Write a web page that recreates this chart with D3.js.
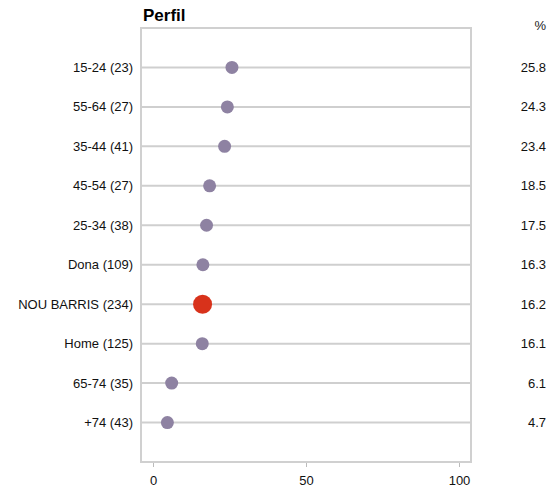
<!DOCTYPE html>
<html><head><meta charset="utf-8">
<script src="https://cdn.jsdelivr.net/npm/d3@7"></script>
<style>body{margin:0;background:#fff;} text{font-family:"Liberation Sans",Arial,sans-serif;}</style>
</head><body><svg id="c" width="550" height="489"></svg>
<script>
const categories = ["15-24 (23)","55-64 (27)","35-44 (41)","45-54 (27)","25-34 (38)","Dona (109)","NOU BARRIS (234)","Home (125)","65-74 (35)","+74 (43)"];
const values = [25.8,24.3,23.4,18.5,17.5,16.3,16.2,16.1,6.1,4.7];
const highlight = ["NOU BARRIS (234)"];
const xTicks = [0,50,100];

const svg = d3.select("#c");
const frame = {l:141, t:28, r:471, b:462};
const x = d3.scaleLinear().domain([0,100]).range([153,459]);
const y = d3.scalePoint().domain(categories).range([frame.t, frame.b]).padding(1);

svg.append("rect").attr("x",frame.l).attr("y",frame.t).attr("width",frame.r-frame.l).attr("height",frame.b-frame.t)
  .attr("fill","none").attr("stroke","#d0d0d0").attr("stroke-width",2);

svg.append("text").attr("x",143).attr("y",21).attr("font-size",17).attr("font-weight","bold").text("Perfil");
svg.append("text").attr("x",546).attr("y",25).attr("dy","0.35em").attr("text-anchor","end").attr("font-size",13).attr("fill","#222").text("%");

const rows = svg.append("g").selectAll("g").data(categories).join("g");
rows.append("line").attr("x1",frame.l).attr("x2",frame.r).attr("y1",d=>y(d)).attr("y2",d=>y(d))
  .attr("stroke","#cfcfcf").attr("stroke-width",2);
rows.append("text").attr("x",133).attr("y",d=>y(d)).attr("dy","0.35em").attr("text-anchor","end")
  .attr("font-size",13).attr("fill","#111").text(d=>d);
rows.append("text").attr("x",546).attr("y",d=>y(d)).attr("dy","0.35em").attr("text-anchor","end")
  .attr("font-size",13).attr("fill","#111").text((d,i)=>values[i].toFixed(1));
rows.append("circle").attr("cx",(d,i)=>x(values[i])).attr("cy",d=>y(d))
  .attr("r",d=>highlight.includes(d)?9.5:6.5)
  .attr("fill",d=>highlight.includes(d)?"#d8321b":"#8e82a2");

const ax = svg.append("g").attr("transform",`translate(0,${frame.b+1})`)
  .call(d3.axisBottom(x).tickValues(xTicks).tickSize(4).tickPadding(9));
ax.select(".domain").remove();
ax.selectAll(".tick line").attr("stroke","#bbb");
ax.selectAll(".tick text").attr("font-size",13).attr("fill","#111").attr("font-family","Liberation Sans, Arial, sans-serif");
</script></body></html>
